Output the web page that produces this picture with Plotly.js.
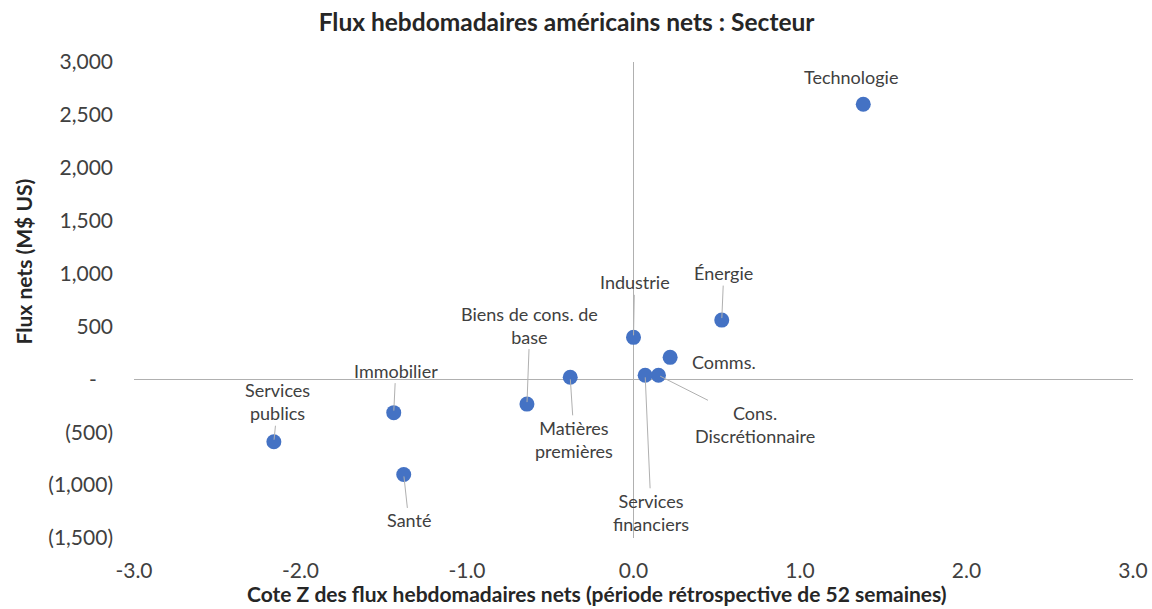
<!DOCTYPE html>
<html>
<head>
<meta charset="utf-8">
<script src="https://cdn.plot.ly/plotly-3.0.1.min.js"></script>
<style>html,body{margin:0;padding:0;background:#fff;}#chart{width:1152px;height:609px;}</style>
</head>
<body>
<div id="chart"></div>
<script>
// ---- data ----
const sectors = ["Technologie", "Énergie", "Industrie", "Comms.", "Cons.<br>Discrétionnaire",
  "Services<br>financiers", "Matières<br>premières", "Biens de cons. de<br>base", "Immobilier",
  "Services<br>publics", "Santé"];
const zScores = [1.38, 0.53, 0.00, 0.22, 0.15, 0.07, -0.38, -0.64, -1.44, -2.16, -1.38];
const netFlows = [2600, 560, 397, 208, 38, 38, 19, -234, -315, -590, -899];
const xTickVals = [-3, -2, -1, 0, 1, 2, 3];
const xTickText = ["-3.0", "-2.0", "-1.0", "0.0", "1.0", "2.0", "3.0"];
const yTickVals = [-1500, -1000, -500, 0, 500, 1000, 1500, 2000, 2500, 3000];
const yTickText = ["(1,500)", "(1,000)", "(500)", "-\u00a0\u00a0\u00a0", "500", "1,000", "1,500", "2,000", "2,500", "3,000"];

// ---- label placement (pixel offsets of label centre from its point) ----
const labelOffsets = [[-12, -27], [2, -47], [1, -55], [54, 5], [97, 49], [6, 137], [4, 62], [3, -79], [2, -42], [4, -40], [5, 46]];
const hasLeader = [false, true, true, false, true, true, true, true, true, true, true];

const FONT = "Lato, 'Open Sans', sans-serif";
const TXT = "#404040";
const LINE = "#b0b0b0";

const annotations = sectors.map((s, i) => {
  const a = {
    x: zScores[i], y: netFlows[i], xref: "x", yref: "y", text: s,
    font: {family: FONT, size: 18, color: TXT}, align: "center"
  };
  if (hasLeader[i]) {
    Object.assign(a, {showarrow: true, arrowhead: 0, arrowwidth: 1, arrowcolor: LINE,
      ax: labelOffsets[i][0], ay: labelOffsets[i][1], standoff: 2});
  } else {
    Object.assign(a, {showarrow: false, xshift: labelOffsets[i][0], yshift: -labelOffsets[i][1]});
  }
  return a;
});

annotations.push({
  text: "Flux nets (M$ US)", xref: "paper", yref: "paper", x: -0.1106, y: 0.58,
  textangle: -90, showarrow: false, xanchor: "center", yanchor: "middle",
  font: {family: FONT, size: 21, color: "#262626", weight: "bold"}
});
annotations.push({
  text: "Cote Z des flux hebdomadaires nets (période rétrospective de 52 semaines)",
  xref: "paper", yref: "paper", x: 0.4632, y: -0.1176, showarrow: false,
  xanchor: "center", yanchor: "middle",
  font: {family: FONT, size: 21, color: "#262626", weight: "bold"}
});

const trace = {
  type: "scatter", mode: "markers", x: zScores, y: netFlows,
  marker: {color: "#4472C4", size: 15, line: {width: 0}},
  hoverinfo: "skip"
};

const layout = {
  width: 1152, height: 609,
  margin: {l: 133.5, r: 19, t: 62, b: 71, pad: 0},
  paper_bgcolor: "#fff", plot_bgcolor: "#fff",
  showlegend: false,
  title: {
    text: "Flux hebdomadaires américains nets : Secteur",
    font: {family: FONT, size: 24.5, color: "#262626", weight: "bold"},
    xref: "container", yref: "container", x: 0.4918, y: 0.9639,
    xanchor: "center", yanchor: "middle"
  },
  xaxis: {
    range: [-3, 3], tickvals: xTickVals, ticktext: xTickText,
    showgrid: false, zeroline: true, zerolinecolor: LINE, zerolinewidth: 1,
    showline: false, ticks: "", ticklabelstandoff: 18,
    tickfont: {family: FONT, size: 21, color: TXT}
  },
  yaxis: {
    range: [-1500, 3000], tickvals: yTickVals, ticktext: yTickText,
    showgrid: false, zeroline: true, zerolinecolor: LINE, zerolinewidth: 1,
    showline: false, ticks: "", ticklabelstandoff: 20,
    tickfont: {family: FONT, size: 21, color: TXT}
  },
  annotations: annotations
};

Plotly.newPlot("chart", [trace], layout, {staticPlot: true, displayModeBar: false});
</script>
</body>
</html>
